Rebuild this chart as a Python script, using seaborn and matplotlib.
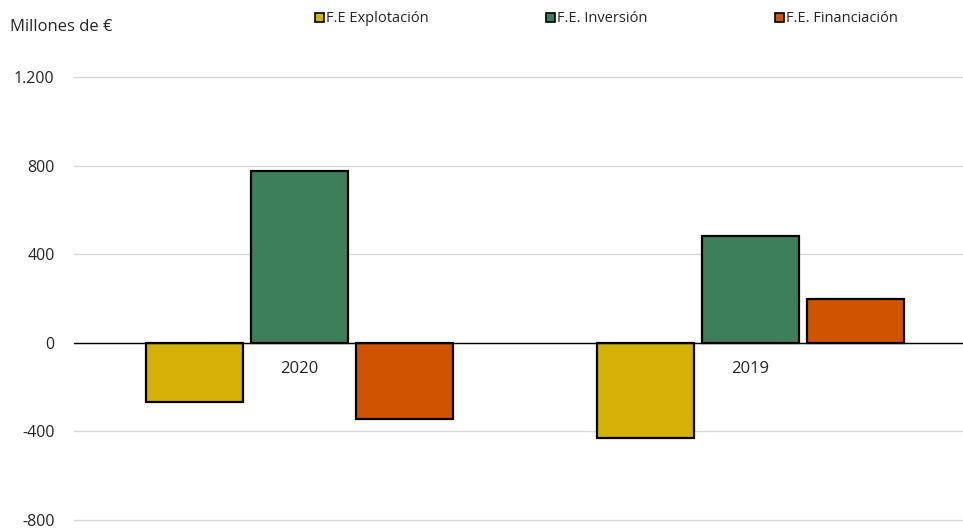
import matplotlib
matplotlib.use('Agg')
import matplotlib.pyplot as plt
import seaborn as sns
import pandas as pd

years = ['2020', '2019']
series = ['F.E Explotación', 'F.E. Inversión', 'F.E. Financiación']
explotacion = [-266, -429]
inversion = [776, 483]
financiacion = [-343, 199]
colors = ['#D4B106', '#3E7F5B', '#D05400']

df = pd.DataFrame({
    'year': years * 3,
    'serie': [s for s in series for _ in years],
    'value': explotacion + inversion + financiacion,
})

sns.set_style('white')
plt.rcParams['font.family'] = ['Open Sans', 'DejaVu Sans']

fig = plt.figure(figsize=(9.63, 5.31), dpi=100)
# the category axis runs a little past the right edge, like the original
ax = fig.add_axes([74 / 963, 1 - 520 / 531, 902 / 963, (520 - 77) / 531])

sns.barplot(data=df, x='year', y='value', hue='serie', order=years, hue_order=series,
            palette=colors, width=0.7, gap=0.08, edgecolor='black', linewidth=1.6,
            saturation=1, ax=ax, legend=False)

ax.set_ylim(-800, 1200)
ax.set_xlim(-0.5, 1.5)
ax.set_yticks([-800, -400, 0, 400, 800, 1200])
ax.set_yticklabels(['-800', '-400', '0', '400', '800', '1.200'], fontsize=11.5)
ax.yaxis.grid(True, color='#d9d9d9', linewidth=1)
ax.set_axisbelow(True)
for line in ax.get_ygridlines():
    line.set_clip_on(False)

# zero line as the category axis
for s in ['top', 'right', 'left']:
    ax.spines[s].set_visible(False)
ax.spines['bottom'].set_position(('data', 0))
ax.spines['bottom'].set_color('black')
ax.spines['bottom'].set_linewidth(1)
ax.tick_params(axis='x', which='major', length=0, pad=13, labelsize=12)
ax.tick_params(axis='y', length=0, pad=14)
ax.set_xticks([-0.5, 0.5], minor=True)
ax.tick_params(axis='x', which='minor', length=4, color='#a0a0a0', direction='out')
ax.set_xlabel('')
ax.set_ylabel('')

fig.text(10 / 963, 1 - 27 / 531, 'Millones de €', fontsize=12, va='center', ha='left')

legend_x = [315, 546, 775]
for name, c, x in zip(series, colors, legend_x):
    h = plt.Rectangle((0, 0), 1, 1, facecolor=c, edgecolor='black', linewidth=1.2)
    fig.legend([h], [name], loc='center left', bbox_to_anchor=(x / 963, 1 - 19 / 531),
               frameon=False, fontsize=10.5, handlelength=0.6, handleheight=0.6,
               handletextpad=0.15, borderpad=0, borderaxespad=0)

fig.savefig('out.png', dpi=100)
